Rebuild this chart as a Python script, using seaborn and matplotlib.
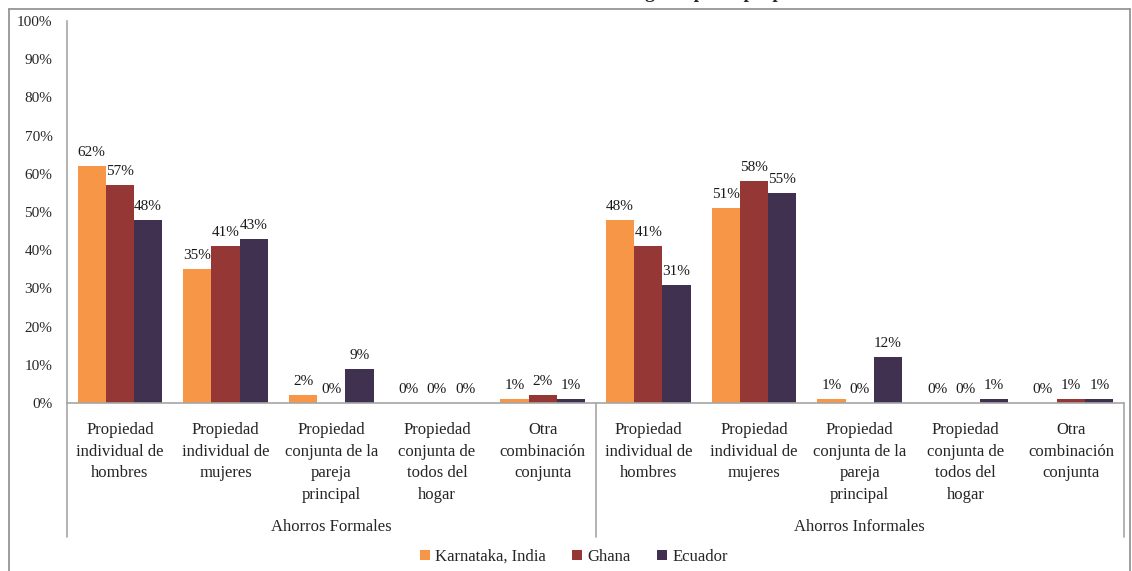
import numpy as np
import pandas as pd
import seaborn as sns
import matplotlib.pyplot as plt
from matplotlib.lines import Line2D
from matplotlib.ticker import PercentFormatter

# --- data ---
groups = ["Ahorros Formales", "Ahorros Informales"]
group_keys = ["F", "I"]
categories = [
    "Propiedad\nindividual de\nhombres",
    "Propiedad\nindividual de\nmujeres",
    "Propiedad\nconjunta de la\npareja\nprincipal",
    "Propiedad\nconjunta de\ntodos del\nhogar",
    "Otra\ncombinación\nconjunta",
]
countries = ["Karnataka, India", "Ghana", "Ecuador"]
karnataka = [0.62, 0.35, 0.02, 0.00, 0.01, 0.48, 0.51, 0.01, 0.00, 0.00]
ghana = [0.57, 0.41, 0.00, 0.00, 0.02, 0.41, 0.58, 0.00, 0.00, 0.01]
ecuador = [0.48, 0.43, 0.09, 0.00, 0.01, 0.31, 0.55, 0.12, 0.01, 0.01]

colors = ["#F79646", "#953735", "#403151"]
grey = "#A6A6A6"

# one unique key per bar slot (categories repeat in both groups)
keys = [f"{g}{i}" for g in group_keys for i in range(len(categories))]
rows = []
for country, vals in zip(countries, [karnataka, ghana, ecuador]):
    for k, v in zip(keys, vals):
        rows.append({"slot": k, "pais": country, "valor": v})
df = pd.DataFrame(rows)

sns.set_style("white")
plt.rcParams["font.family"] = ["Liberation Serif", "DejaVu Serif"]

fig = plt.figure(figsize=(11.32, 5.71), dpi=100)
ax = fig.add_axes([67 / 1132, 1 - 403 / 571, (1124 - 67) / 1132, (403 - 21) / 571])

sns.barplot(data=df, x="slot", y="valor", hue="pais", order=keys,
            hue_order=countries, palette=colors, width=0.8, errorbar=None,
            saturation=1, edgecolor="none", ax=ax)

for cont in ax.containers:
    ax.bar_label(cont, fmt="{:.0%}", padding=5, fontsize=11, color="#1a1a1a")

ax.set_ylim(0, 1)
ax.set_xlim(-0.5, len(keys) - 0.5)
ax.set_yticks(np.arange(0, 1.01, 0.1))
ax.yaxis.set_major_formatter(PercentFormatter(1.0, decimals=0))
ax.set_xticks(range(len(keys)))
ax.set_xticklabels(categories * 2, fontsize=12, linespacing=1.45)
ax.tick_params(axis="x", length=0, pad=14)
ax.tick_params(axis="y", length=0, pad=10.5, labelsize=11)
ax.set_xlabel("")
ax.set_ylabel("")
for side in ["top", "right"]:
    ax.spines[side].set_visible(False)
for side in ["left", "bottom"]:
    ax.spines[side].set_color(grey)
    ax.spines[side].set_linewidth(1.2)

# group separators below the axis
trans = ax.get_xaxis_transform()
for xpos in [-0.5, 4.5, 9.5]:
    ax.add_line(Line2D([xpos, xpos], [0, -0.351], transform=trans,
                       color=grey, lw=1.2, clip_on=False))
for gi, g in enumerate(groups):
    ax.text(gi * 5 + 2, -0.324, g, transform=trans, ha="center",
            va="center", fontsize=12)

# legend at the bottom
handles, labels = ax.get_legend_handles_labels()
ax.legend_.remove()
fig.legend(handles, labels, loc="center", bbox_to_anchor=(0.507, 1 - 557 / 571),
           ncol=3, frameon=False, fontsize=12, handlelength=0.6,
           handleheight=0.6, handletextpad=0.3, columnspacing=1.6)

# chart area frame
fx0, fx1, fy1 = 9 / 1132, 1130 / 1132, 1 - 9 / 571
for xs, ys in [([fx0, fx0], [0, fy1]), ([fx0, fx1], [fy1, fy1]), ([fx1, fx1], [0, fy1])]:
    fig.add_artist(Line2D(xs, ys, color="#8C8C8C", lw=1.2))

# title sits mostly above the visible area, as in the reference
fig.text(0.49, 1.012, "Ahorros según tipo de propiedad", ha="left",
         va="center", fontsize=14, fontweight="bold")

fig.savefig("out.png", dpi=100)
